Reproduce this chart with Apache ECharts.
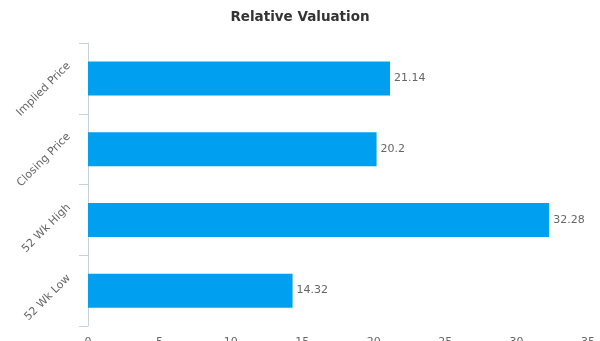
<!DOCTYPE html>
<html>
<head>
<meta charset="utf-8">
<script src="https://cdn.jsdelivr.net/npm/echarts@6/dist/echarts.min.js"></script>
<style>
html,body{margin:0;padding:0;background:#fff;}
#main{width:600px;height:341px;}
</style>
</head>
<body>
<div id="main"></div>
<script>
const categories = ['Implied Price', 'Closing Price', '52 Wk High', '52 Wk Low'];
const values = [21.14, 20.2, 32.28, 14.32];
const xTicks = [0, 5, 10, 15, 20, 25, 30, 35];

const chart = echarts.init(document.getElementById('main'), null, {renderer: 'canvas'});
chart.setOption({
  animation: false,
  backgroundColor: '#ffffff',
  textStyle: {fontFamily: 'DejaVu Sans'},
  title: {
    text: 'Relative Valuation',
    left: 'center',
    top: 5,
    textStyle: {fontSize: 13.5, fontWeight: 'bold', color: '#333333', fontFamily: 'DejaVu Sans'}
  },
  grid: {left: 88, right: 12, top: 43, bottom: 15, containLabel: false, outerBoundsMode: 'none'},
  xAxis: {
    type: 'value',
    min: xTicks[0],
    max: xTicks[xTicks.length - 1],
    interval: 5,
    axisLine: {show: false},
    axisTick: {show: false},
    splitLine: {show: false},
    axisLabel: {color: '#666666', fontSize: 11, margin: 11, fontFamily: 'DejaVu Sans'}
  },
  yAxis: {
    type: 'category',
    data: categories,
    inverse: true,
    axisLine: {show: true, lineStyle: {color: '#C8D2DC', width: 1}},
    axisTick: {show: true, length: 9, lineStyle: {color: '#C8D2DC'}},
    axisLabel: {
      rotate: 45,
      color: '#666666',
      fontSize: 11,
      margin: 5,
      fontFamily: 'DejaVu Sans',
      align: 'right',
      verticalAlign: 'bottom',
      lineHeight: 40
    }
  },
  series: [{
    type: 'bar',
    data: values,
    barWidth: 34,
    itemStyle: {color: '#019FEF'},
    label: {
      show: true,
      position: 'right',
      distance: 4,
      color: '#666666',
      fontSize: 11,
      fontFamily: 'DejaVu Sans'
    }
  }]
});
</script>
</body>
</html>
